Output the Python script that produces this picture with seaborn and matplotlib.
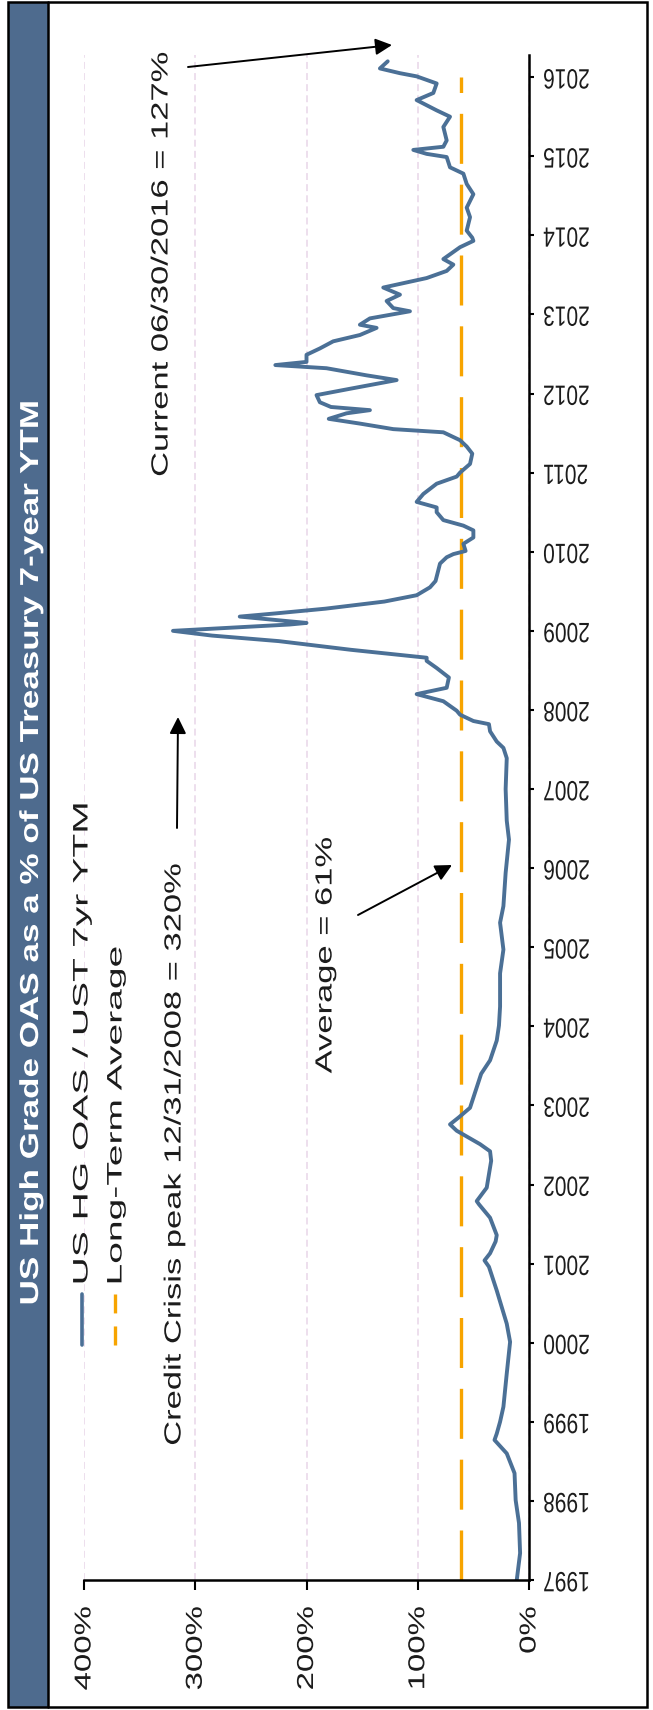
import matplotlib
matplotlib.use("Agg")
import matplotlib.pyplot as plt
import pandas as pd
import seaborn as sns
from matplotlib.patheffects import AbstractPathEffect
from matplotlib.transforms import Affine2D
from matplotlib.patches import Rectangle, FancyArrowPatch, ArrowStyle
from matplotlib.lines import Line2D

# ---- data -------------------------------------------------------------
years = [
    1997.00, 1997.34, 1997.72, 1998.01, 1998.35, 1998.60, 1998.77, 1998.85,
    1999.00, 1999.19, 1999.61, 2000.01, 2000.24, 2000.66, 2000.96, 2001.04,
    2001.13, 2001.28, 2001.36, 2001.58, 2001.75, 2001.79, 2001.96, 2002.13,
    2002.30, 2002.42, 2002.51, 2002.68, 2002.76, 2002.85, 2002.97, 2003.23,
    2003.40, 2003.57, 2003.82, 2004.01, 2004.25, 2004.67, 2004.97, 2005.31,
    2005.52, 2005.94, 2006.36, 2006.60, 2007.00, 2007.39, 2007.52, 2007.60,
    2007.73, 2007.82, 2007.86, 2007.94, 2007.99, 2008.11, 2008.20, 2008.28,
    2008.41, 2008.53, 2008.62, 2008.66, 2008.76, 2008.87, 2008.94, 2009.00,
    2009.03, 2009.08, 2009.10, 2009.18, 2009.22, 2009.28, 2009.37, 2009.45,
    2009.55, 2009.63, 2009.85, 2009.93, 2009.97, 2010.01, 2010.10, 2010.18,
    2010.27, 2010.33, 2010.40, 2010.50, 2010.56, 2010.63, 2010.73, 2010.86,
    2010.95, 2011.00, 2011.11, 2011.24, 2011.33, 2011.41, 2011.51, 2011.55,
    2011.62, 2011.68, 2011.75, 2011.79, 2011.83, 2011.89, 2011.98, 2012.06,
    2012.17, 2012.23, 2012.32, 2012.36, 2012.40, 2012.49, 2012.57, 2012.66,
    2012.74, 2012.83, 2012.87, 2012.95, 2013.04, 2013.08, 2013.17, 2013.25,
    2013.34, 2013.46, 2013.55, 2013.63, 2013.70, 2013.76, 2013.85, 2013.93,
    2013.97, 2014.06, 2014.23, 2014.35, 2014.52, 2014.65, 2014.78, 2014.86,
    2014.99, 2015.03, 2015.08, 2015.12, 2015.20, 2015.37, 2015.50, 2015.58,
    2015.71, 2015.80, 2015.92, 2016.01, 2016.05, 2016.11, 2016.20,
]
oas_pct_of_ytm = [
    11, 8, 9, 12, 13, 20, 31, 29,
    26, 23, 20, 17, 20, 29, 36, 40,
    35, 30, 29, 35, 45, 47, 38, 36,
    34, 35, 44, 65, 71, 63, 53, 47,
    43, 35, 29, 27, 26, 26, 23, 26,
    23, 21, 18, 20, 21, 20, 23, 29,
    35, 36, 50, 62, 65, 77, 101, 74,
    72, 83, 92, 92, 160, 225, 285, 320,
    280, 215, 200, 260, 228, 183, 130, 101,
    89, 84, 80, 74, 68, 57, 59, 50,
    50, 59, 77, 83, 83, 101, 95, 83,
    65, 62, 53, 51, 56, 62, 77, 122,
    152, 180, 164, 143, 178, 188, 191, 161,
    119, 146, 182, 228, 200, 200, 188, 176,
    152, 137, 152, 143, 107, 122, 128, 116,
    131, 92, 74, 68, 77, 71, 62, 50,
    51, 56, 53, 56, 50, 56, 59, 71,
    74, 92, 104, 77, 74, 77, 71, 83,
    101, 86, 83, 101, 116, 134, 127,
]
avg_years = [1997.0, 2016.0]
avg_pct = [61, 61]

value_ticks = [0, 100, 200, 300, 400]
value_labels = ["0%", "100%", "200%", "300%", "400%"]
year_ticks = list(range(1997, 2017))
year_labels = [str(y) for y in year_ticks]

series_names = ["US HG OAS / UST 7yr YTM", "Long-Term Average"]
title_text = "US High Grade OAS as a % of US Treasury 7-year YTM"
note_current = "Current 06/30/2016 = 127%"
note_peak = "Credit Crisis peak 12/31/2008 = 320%"
note_avg = "Average = 61%"

# ---- style ------------------------------------------------------------
sns.set_theme(style="white")
plt.rcParams["font.family"] = ["Liberation Sans", "DejaVu Sans"]
plt.rcParams["lines.scale_dashes"] = False

BLUE = "#4b7096"
ORANGE = "#f7a400"
BAR = "#4e6b8e"
INK = "#1c1c1c"

W, H = 653, 1710
fig = plt.figure(figsize=(W / 100, H / 100), dpi=100)
fig.patch.set_facecolor("white")


def fx(x):
    return x / W


def fy(y):
    return 1 - y / H


class VStretch(AbstractPathEffect):
    """Draw text glyphs stretched vertically about a point of their ink box."""

    def __init__(self, sy, anchor=0.5):
        super().__init__()
        self.sy = sy
        self.anchor = anchor

    def draw_path(self, renderer, gc, tpath, affine, rgbFace=None):
        bb = tpath.get_extents(affine)
        cy = bb.y0 + self.anchor * bb.height
        tr = affine + Affine2D().translate(0, -cy).scale(1, self.sy).translate(0, cy)
        renderer.draw_path(gc, tpath, tr, rgbFace)


# ---- frame and title band ---------------------------------------------
fig.add_artist(Rectangle((fx(9), fy(1707)), fx(48) - fx(9), fy(2) - fy(1707),
                         transform=fig.transFigure, facecolor=BAR,
                         edgecolor="none", zorder=0))
fig.add_artist(Line2D([fx(48), fx(48)], [fy(2), fy(1707)], color="black",
                      lw=1.8, transform=fig.transFigure))
fig.add_artist(Rectangle((fx(8), fy(1707)), fx(647) - fx(8), fy(2) - fy(1707),
                         transform=fig.transFigure, fill=False,
                         edgecolor="black", lw=1.8))
fig.text(fx(31), fy(852), title_text, rotation=90, ha="center", va="center",
         color="white", fontsize=18.7, fontweight="bold",
         path_effects=[VStretch(1.35)])

# ---- plot area --------------------------------------------------------
ax = fig.add_axes([fx(84), fy(1580), fx(529) - fx(84), fy(55) - fy(1580)])
ax.set_facecolor("none")

avg_df = pd.DataFrame({"year": avg_years, "pct": avg_pct})
ratio_df = pd.DataFrame({"year": years, "pct": oas_pct_of_ytm})

sns.lineplot(data=avg_df, x="pct", y="year", orient="y", estimator=None,
             color=ORANGE, lw=2.4, ax=ax)
ax.lines[-1].set_dashes([36, 15])
sns.lineplot(data=ratio_df, x="pct", y="year", orient="y", estimator=None,
             color=BLUE, lw=2.8, ax=ax)

ax.set_xlim(400, 0)
ax.set_ylim(1997, 2016.28)
ax.set_xticks(value_ticks, value_labels)
ax.set_yticks(year_ticks, year_labels)
ax.yaxis.tick_right()
ax.set_xlabel("")
ax.set_ylabel("")

ax.tick_params(axis="x", bottom=True, top=False, direction="out", length=7.2,
               width=1.5, color="black", pad=12, labelsize=16.6,
               labelcolor=INK, labelrotation=90)
ax.tick_params(axis="y", right=True, left=False, labelright=True,
               labelleft=False, direction="out", length=3.6, width=1.5,
               color="black", pad=6.5, labelsize=15.1, labelcolor=INK,
               labelrotation=180)

for side in ["left", "top"]:
    ax.spines[side].set_visible(False)
for side in ["right", "bottom"]:
    ax.spines[side].set_color("black")
    ax.spines[side].set_linewidth(1.8)

ax.grid(axis="x", color="#e8d6e8", lw=1.1, linestyle=(0, (5, 3)))
ax.grid(axis="y", visible=False)

for tick in ax.xaxis.get_major_ticks():
    tick.label1.set_path_effects([VStretch(1.43, anchor=1.0)])
for tick in ax.yaxis.get_major_ticks():
    tick.label2.set_path_effects([VStretch(1.33)])
    tick.label2.set_va("center")

# ---- legend -----------------------------------------------------------
fig.add_artist(Line2D([fx(82), fx(82)], [fy(1294), fy(1345)], color=BLUE,
                      lw=2.6, transform=fig.transFigure))
fig.add_artist(Line2D([fx(115), fx(115)], [fy(1345), fy(1294)], color=ORANGE,
                      lw=2.4, dashes=(13.7, 9.4), transform=fig.transFigure))
fig.text(fx(82), fy(1284), series_names[0], rotation=90, ha="center",
         va="bottom", color=INK, fontsize=15.1,
         path_effects=[VStretch(1.86, anchor=0.0)])
fig.text(fx(116), fy(1284), series_names[1], rotation=90, ha="center",
         va="bottom", color=INK, fontsize=15.1,
         path_effects=[VStretch(1.86, anchor=0.0)])

# ---- annotations ------------------------------------------------------
for txt, (x, y) in [(note_current, (161, 264)),
                    (note_peak, (174, 1154)),
                    (note_avg, (325, 955))]:
    fig.text(fx(x), fy(y), txt, rotation=90, ha="center", va="center",
             color=INK, fontsize=16.8, path_effects=[VStretch(1.48)])


def arrow(p0, p1):
    fig.add_artist(FancyArrowPatch(
        (fx(p0[0]), fy(p0[1])), (fx(p1[0]), fy(p1[1])),
        transform=fig.transFigure,
        arrowstyle=ArrowStyle("-|>", head_length=10, head_width=5),
        mutation_scale=1, color="black", lw=1.4, shrinkA=0, shrinkB=0))


arrow((188, 67), (392, 45))
arrow((177, 828), (178, 717))
arrow((358, 915), (452, 865))

fig.savefig("out.png", dpi=100, facecolor="white")
